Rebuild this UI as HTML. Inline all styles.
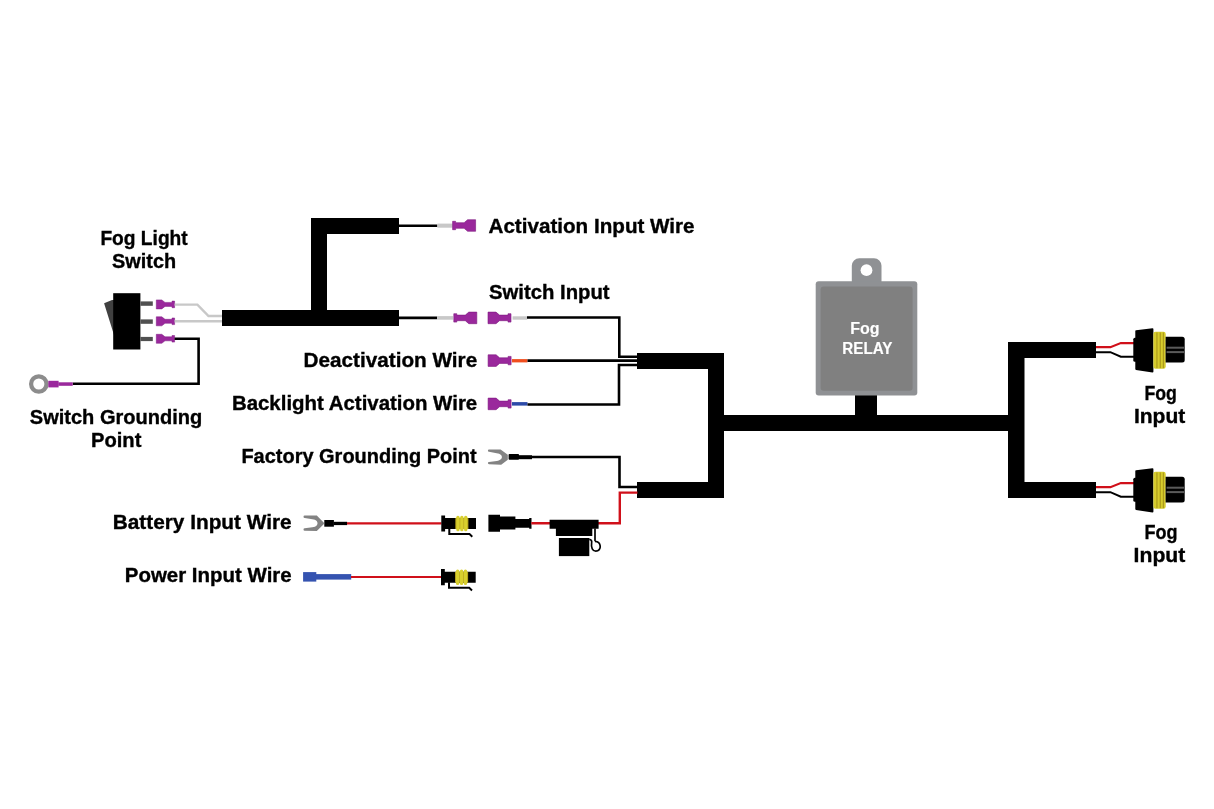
<!DOCTYPE html>
<html><head><meta charset="utf-8"><title>Fog Light Wiring Diagram</title>
<style>
html,body{margin:0;padding:0;background:#fff;width:1214px;height:809px;overflow:hidden}
svg{display:block}
text{font-family:"Liberation Sans",sans-serif;font-weight:bold;font-size:20px;fill:#000;stroke:#000;stroke-width:0.35px}
svg{will-change:transform}
</style></head><body>
<svg width="1214" height="809" viewBox="0 0 1214 809">
<defs>
  <path id="term" d="M0,-4.2 H3 V-2.8 H11.5 L15,-5.8 H23 V5.8 H15 L11.5,2.8 H3 V4.2 H0 Z" fill="#9a289c" stroke="#7d1a80" stroke-width="0.6"/>
  <path id="termS" d="M0,-3.3 H2.6 V-2 H9.6 L12.8,-4.5 H18.3 V4.5 H12.8 L9.6,2 H2.6 V3.3 H0 Z" fill="#9a289c" stroke="#7d1a80" stroke-width="0.5"/>
  <path id="spade" d="M0.8,-7.5 L12.4,-7.6 L19.6,-2.3 V2.7 L13,7.6 L0.8,7.1 A1.1,1.1 0 0 1 0.8,4.9 L8.5,3.9 C12.5,3.4 13.7,1.5 13.7,0 C13.7,-1.8 12.3,-3.5 8.5,-3.9 L0.8,-5.3 A1.1,1.1 0 0 1 0.8,-7.5 Z" fill="#838383"/>
  <path id="spade2" d="M0.8,-7.7 L12.9,-7.8 L20,-0.6 V0.6 L12.9,7.6 L0.8,7.4 A1.2,1.2 0 0 1 0.8,5 L8.5,4 C12.5,3.5 13.6,1.5 13.6,0 C13.6,-1.8 12.4,-3.6 8.5,-4 L0.8,-5.3 A1.2,1.2 0 0 1 0.8,-7.7 Z" fill="#838383"/>
  <g id="male">
    <path d="M0,-8.1 H3.8 V-5.4 H34.7 V5.5 H3.8 V8.1 H0 Z" fill="#000"/>
    <rect x="14" y="-5.4" width="13.1" height="10.9" fill="#b4a01c"/>
    <rect x="15" y="-7.8" width="3.3" height="15.6" rx="1.6" fill="#d8cf2e"/>
    <rect x="18.9" y="-7.8" width="3.3" height="15.6" rx="1.6" fill="#d8cf2e"/>
    <rect x="22.8" y="-7.8" width="3.3" height="15.6" rx="1.6" fill="#d8cf2e"/>
    <path d="M8,5 V10.6 H28.2 L31,13.2" fill="none" stroke="#000" stroke-width="2"/>
  </g>
  <g id="fogconn">
    <path d="M1096,347.2 H1110.4 L1120.8,343.1 H1135" fill="none" stroke="#d0101a" stroke-width="2.2"/>
    <path d="M1096,352.2 H1110.4 L1120.8,356.7 H1135" fill="none" stroke="#000" stroke-width="2"/>
    <rect x="1133.3" y="337.7" width="4" height="24" rx="1.5" fill="#000"/>
    <path d="M1135.3,331 Q1135.3,330.3 1136,330.2 L1152.5,328.2 Q1153.4,328.2 1153.4,329 V371.8 Q1153.4,372.6 1152.5,372.6 L1136,369.9 Q1135.3,369.8 1135.3,369 Z" fill="#000"/>
    <rect x="1153.4" y="331.8" width="12.3" height="37" rx="2.2" fill="#d6cc2c"/>
    <rect x="1156.4" y="332.5" width="1.1" height="35.6" fill="#a8961a"/>
    <rect x="1159.7" y="332.5" width="1.1" height="35.6" fill="#a8961a"/>
    <rect x="1162.8" y="332.5" width="1.1" height="35.6" fill="#a8961a"/>
    <path d="M1165.6,336.8 H1182.2 Q1184.7,336.8 1184.7,339.3 V360.1 Q1184.7,362.6 1182.2,362.6 H1165.6 Z" fill="#000"/>
    <rect x="1166.6" y="346.7" width="17.4" height="2" fill="#5a5a5a"/>
    <rect x="1166.6" y="351.1" width="17.4" height="2" fill="#5a5a5a"/>
  </g>
</defs>
<rect width="1214" height="809" fill="#fff"/>

<!-- ===== Harness ===== -->
<g fill="#000">
  <rect x="222" y="310" width="177" height="16"/>
  <rect x="311" y="218" width="16" height="108"/>
  <rect x="311" y="218" width="88" height="16"/>

  <rect x="637" y="353" width="87" height="16"/>
  <rect x="708" y="353" width="16" height="145"/>
  <rect x="637" y="482" width="87" height="16"/>
  <rect x="720" y="415" width="292" height="16"/>
  <rect x="855" y="393" width="22" height="24"/>

  <rect x="1008" y="342" width="16.5" height="156"/>
  <rect x="1008" y="342" width="88" height="16"/>
  <rect x="1008" y="482" width="88" height="16"/>
</g>

<!-- ===== Relay ===== -->
<path d="M851.8,285 V265.8 A7.5,7.5 0 0 1 859.3,258.3 H874 A7.5,7.5 0 0 1 881.5,265.8 V285 Z" fill="#8f9194"/>
<circle cx="866.5" cy="270.2" r="5.9" fill="#fff"/>
<rect x="815.7" y="281.2" width="101.6" height="114.3" rx="3" fill="#8f9194"/>
<rect x="820.6" y="286.4" width="92" height="104.4" rx="3" fill="#808080"/>
<text x="850.30" y="334.20" textLength="29.30" lengthAdjust="spacingAndGlyphs" style="fill:#fff;stroke:#fff;stroke-width:0.15px;font-size:15.6px">Fog</text>
<text x="842.30" y="353.90" textLength="50.10" lengthAdjust="spacingAndGlyphs" style="fill:#fff;stroke:#fff;stroke-width:0.15px;font-size:15.6px">RELAY</text>

<!-- ===== Switch ===== -->
<path d="M104.1,303.2 L112,300 H114 V335 Z" fill="#404040"/>
<rect x="113.2" y="293.2" width="27.2" height="56.3" fill="#000"/>
<g fill="#505050">
  <rect x="140.4" y="301.4" width="12.4" height="4.4"/>
  <rect x="140.4" y="319.4" width="12.4" height="4.4"/>
  <rect x="140.4" y="336.9" width="12.4" height="4.2"/>
</g>
<use href="#termS" transform="translate(174.6,304.4) scale(-1,1)"/>
<use href="#termS" transform="translate(174.6,321.3) scale(-1,1)"/>
<use href="#termS" transform="translate(174.6,338.8) scale(-1,1)"/>
<path d="M174.6,304.6 H197.4 L208.5,316 H222" fill="none" stroke="#c8c8c8" stroke-width="2.4"/>
<path d="M174.6,321.2 H222" fill="none" stroke="#c8c8c8" stroke-width="2.4"/>
<path d="M174.6,338.8 H198.6 V383.8 H72.7" fill="none" stroke="#000" stroke-width="2.6"/>
<!-- ring terminal -->
<circle cx="38.8" cy="384" r="7.7" fill="none" stroke="#8c8c8c" stroke-width="4.2"/>
<rect x="48.3" y="380.8" width="10.3" height="6.6" fill="#9a289c"/>
<rect x="58.3" y="382.3" width="14.4" height="3.5" fill="#9a289c"/>

<!-- ===== Activation Input ===== -->
<path d="M399,225.7 H437.4" stroke="#000" stroke-width="2.6"/>
<rect x="437.4" y="223.6" width="15.4" height="4.1" fill="#c8c8c8"/>
<use href="#term" transform="translate(452.6,225.5)"/>

<!-- ===== Switch input ===== -->
<path d="M399,317.9 H437.1" stroke="#000" stroke-width="2.6"/>
<rect x="437.1" y="316.1" width="16" height="3.6" fill="#c8c8c8"/>
<use href="#term" transform="translate(453.8,317.9)"/>
<use href="#term" transform="translate(511,317.9) scale(-1,1)"/>
<rect x="512.6" y="316.3" width="14.6" height="3.4" fill="#c8c8c8"/>
<path d="M527,317.5 H619.3 V356.8 H637.5" fill="none" stroke="#000" stroke-width="2.6"/>

<!-- ===== Deactivation ===== -->
<use href="#term" transform="translate(511.1,360.6) scale(-1,1)"/>
<rect x="512" y="359.1" width="15.5" height="3.3" fill="#f04e1e"/>
<path d="M527.5,360.6 H637.5" fill="none" stroke="#000" stroke-width="2.6"/>

<!-- ===== Backlight ===== -->
<use href="#term" transform="translate(511.1,403.9) scale(-1,1)"/>
<rect x="512" y="402.1" width="15.5" height="3.5" fill="#2c4aa8"/>
<path d="M527.5,404.5 H619 V365 H637.5" fill="none" stroke="#000" stroke-width="2.6"/>

<!-- ===== Factory ground ===== -->
<use href="#spade" transform="translate(488.2,457.1)"/>
<rect x="508.6" y="454" width="10.4" height="5.8" rx="0.8" fill="#000"/>
<rect x="518.8" y="455.2" width="13.2" height="4" fill="#000"/>
<path d="M532,457 H619.5 V487 H637.5" fill="none" stroke="#000" stroke-width="2.6"/>

<!-- ===== Battery ===== -->
<use href="#spade2" transform="translate(303.9,523.3)"/>
<rect x="324.3" y="520" width="9.6" height="6.7" fill="#000"/>
<rect x="333.6" y="521.8" width="13.5" height="3.3" fill="#000"/>
<path d="M347,523.4 H441.5" stroke="#d0101a" stroke-width="2.4"/>
<use href="#male" transform="translate(441.3,523.5)"/>
<!-- female connector -->
<path d="M488.4,514.8 H500 V516.6 H515.4 V519 H529.2 V518.1 H531.5 V528.7 H529.2 V527.7 H515.4 V529.5 H500 V531.7 H488.4 Z" fill="#000"/>
<path d="M531.3,523.3 H550 M598,523.3 H619.8 V492.6 H637.5" fill="none" stroke="#d0101a" stroke-width="2.4"/>
<!-- fuse holder -->
<path d="M549.6,519.8 H598.6 V528.7 H592.3 V536.1 H555.9 V528.7 H549.6 Z" fill="#000"/>
<rect x="558.9" y="538" width="30.4" height="18.1" fill="#000"/>
<path d="M595,528.5 V541.3 M589.2,539.4 C591.4,539.4 592,541 591.6,543.2 C590.9,547.6 592.6,551.1 595.8,551.1 C598.8,551.1 600.5,548.8 600.2,546 C599.9,543.1 597.6,541.4 595,541.3" fill="none" stroke="#000" stroke-width="1.7"/>

<!-- ===== Power ===== -->
<rect x="303.1" y="572.1" width="13.2" height="9.5" fill="#3553b0"/>
<rect x="316" y="574.1" width="35.2" height="5.5" fill="#3553b0"/>
<path d="M351,577 H441.5" stroke="#d0101a" stroke-width="2.2"/>
<use href="#male" transform="translate(441,577.2)"/>

<!-- ===== Fog connectors ===== -->
<use href="#fogconn"/>
<use href="#fogconn" transform="translate(0,140)"/>

<!-- ===== Labels ===== -->
<text x="100.40" y="244.50" textLength="87.30" lengthAdjust="spacingAndGlyphs">Fog Light</text>
<text x="112.10" y="267.60" textLength="64.00" lengthAdjust="spacingAndGlyphs">Switch</text>
<text x="29.80" y="424.30" textLength="172.50" lengthAdjust="spacingAndGlyphs">Switch Grounding</text>
<text x="91.00" y="447.00" textLength="50.40" lengthAdjust="spacingAndGlyphs">Point</text>
<text x="488.50" y="233.00" textLength="206.10" lengthAdjust="spacingAndGlyphs">Activation Input Wire</text>
<text x="489.00" y="298.60" textLength="120.60" lengthAdjust="spacingAndGlyphs">Switch Input</text>
<text x="303.60" y="366.60" textLength="173.60" lengthAdjust="spacingAndGlyphs">Deactivation Wire</text>
<text x="231.90" y="410.00" textLength="245.30" lengthAdjust="spacingAndGlyphs">Backlight Activation Wire</text>
<text x="241.40" y="463.30" textLength="235.20" lengthAdjust="spacingAndGlyphs">Factory Grounding Point</text>
<text x="112.70" y="529.00" textLength="179.00" lengthAdjust="spacingAndGlyphs">Battery Input Wire</text>
<text x="124.80" y="582.00" textLength="166.90" lengthAdjust="spacingAndGlyphs">Power Input Wire</text>
<text x="1144.40" y="399.50" textLength="32.40" lengthAdjust="spacingAndGlyphs">Fog</text>
<text x="1133.90" y="422.60" textLength="51.40" lengthAdjust="spacingAndGlyphs">Input</text>
<text x="1144.40" y="538.50" textLength="33.00" lengthAdjust="spacingAndGlyphs">Fog</text>
<text x="1133.60" y="561.90" textLength="51.70" lengthAdjust="spacingAndGlyphs">Input</text>
</svg>
</body></html>
